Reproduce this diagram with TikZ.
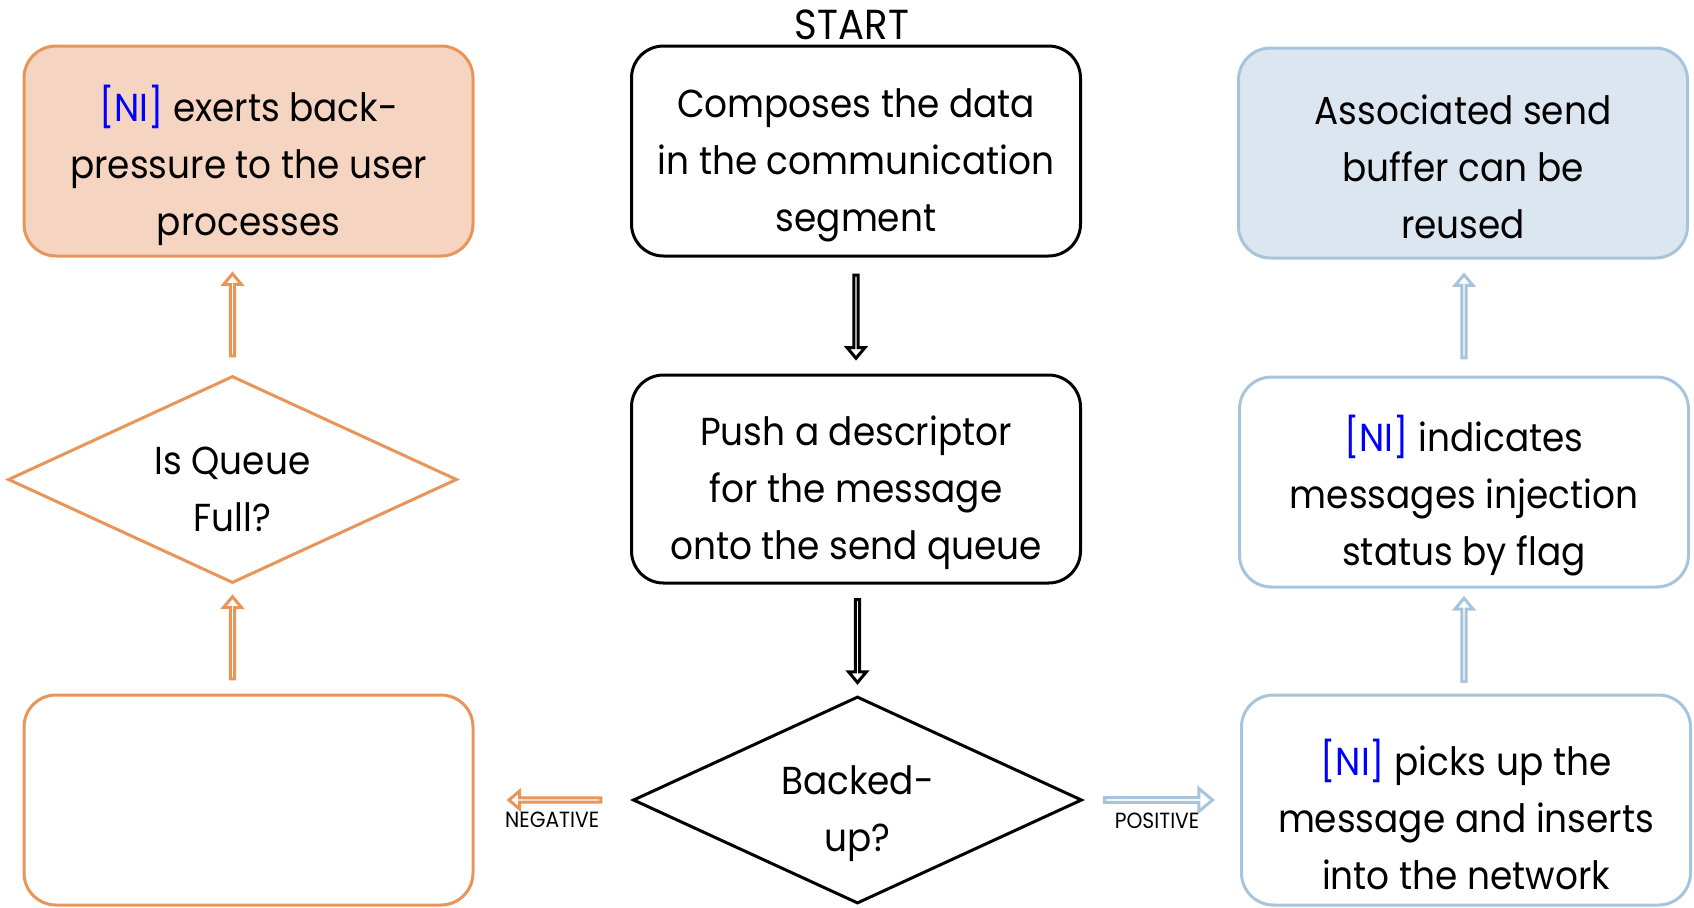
\documentclass[tikz,border=0pt]{standalone}
\usepackage{fontspec}
\setmainfont[FakeStretch=0.92]{Poppins}
\usetikzlibrary{shapes.geometric,shapes.arrows,calc}
\definecolor{orangeline}{HTML}{E8955A}
\definecolor{orangefill}{HTML}{F5D5C1}
\definecolor{blueline}{HTML}{A8C4DD}
\definecolor{bluefill}{HTML}{DBE6F0}
\definecolor{niblue}{HTML}{0000FF}
\newcommand{\NItag}{\textcolor{niblue}{[NI]}}
\tikzset{
  box/.style={rectangle, rounded corners=16pt, line width=1.5pt,
    minimum width=224.5pt, minimum height=105pt, inner sep=0pt},
  decision/.style={diamond, aspect=2.17, line width=1.5pt, fill=white,
    minimum width=224.5pt, minimum height=103.5pt, inner sep=0pt},
  boxtext/.style={align=center, inner sep=0pt,
    font=\fontsize{19.5pt}{28.5pt}\selectfont},
  flowlabel/.style={inner sep=0pt, font=\fontsize{11pt}{13pt}\selectfont},
  blockarrow/.style={single arrow, draw=#1, line width=1.5pt, fill=white,
    inner sep=0pt, minimum width=9pt, single arrow head extend=2.5pt,
    single arrow head indent=0pt, single arrow tip angle=80,
    sloped, allow upside down, anchor=center}
}
\begin{document}
\begin{tikzpicture}[x=0.5pt,y=-0.5pt]
\useasboundingbox (0,0) rectangle (1694,907);

% start marker
\node[font=\fontsize{21pt}{24pt}\selectfont, inner sep=0pt] (start) at (852,25) {START};

% left column: back-pressure branch
\node[box, draw=orangeline, fill=orangefill] (bp) at (248.5,151) {};
\node[boxtext] (bptext) at ($(bp.center)+(0,14)$)
  {\NItag{} exerts back-\\pressure to the user\\processes};
\node[decision, draw=orangeline] (full) at (232.5,479.5) {};
\node[boxtext] (fulltext) at ($(full.center)+(0,10)$) {Is Queue\\Full?};
\node[box, draw=orangeline, fill=white] (neg) at (248.5,800) {};

% centre column: main sequence
\node[box, draw=black, fill=white] (compose) at (856,151) {};
\node[boxtext] (composetext) at ($(compose.center)+(0,14)$)
  {Composes the data\\in the communication\\segment};
\node[box, draw=black, fill=white, minimum height=104pt] (push) at (856,479) {};
\node[boxtext] (pushtext) at ($(push.center)+(0,14)$)
  {Push a descriptor\\for the message\\onto the send queue};
\node[decision, draw=black] (backed) at (857.5,800) {};
\node[boxtext] (backedtext) at ($(backed.center)+(0,14)$) {Backed-\\up?};

% right column: injection branch
\node[box, draw=blueline, fill=bluefill] (reuse) at (1463,153) {};
\node[boxtext] (reusetext) at ($(reuse.center)+(0,14)$)
  {Associated send\\buffer can be\\reused};
\node[box, draw=blueline, fill=white] (flag) at (1464,482) {};
\node[boxtext] (flagtext) at ($(flag.center)+(0,14)$)
  {\NItag{} indicates\\messages injection\\status by flag};
\node[box, draw=blueline, fill=white] (inject) at (1466,800) {};
\node[boxtext] (injecttext) at ($(inject.center)+(0,14)$)
  {\NItag{} picks up the\\message and inserts\\into the network};

% block arrows
\path (neg.north -| full.south) -- (full.south)
  node[blockarrow=orangeline, midway, minimum height=41pt] (a1) {};
\path (full.north) -- (bp.south -| full.north)
  node[blockarrow=orangeline, midway, minimum height=41pt] (a2) {};
\path (compose.south) -- (push.north)
  node[blockarrow=black, midway, minimum height=41.5pt] (a3) {};
\path (push.south -| backed.north) -- (backed.north)
  node[blockarrow=black, midway, minimum height=41.5pt] (a4) {};
\path (inject.north -| flag.south) -- (flag.south)
  node[blockarrow=blueline, midway, minimum height=41.5pt] (a5) {};
\path (flag.north) -- (reuse.south -| flag.north)
  node[blockarrow=blueline, midway, minimum height=41.5pt] (a6) {};
\path (backed) -- (neg)
  node[blockarrow=orangeline, pos=0.48, minimum height=46pt] (aneg) {};
\path (backed) -- (inject)
  node[blockarrow=blueline, pos=0.47, minimum height=54pt,
  minimum width=11.5pt, single arrow head extend=2.75pt] (apos) {};

% branch labels
\node[flowlabel, anchor=north] (neglabel) at ($(aneg.center)+(-4,12)$) {NEGATIVE};
\node[flowlabel, anchor=north] (poslabel) at ($(apos.center)+(0,13)$) {POSITIVE};
\end{tikzpicture}
\end{document}
